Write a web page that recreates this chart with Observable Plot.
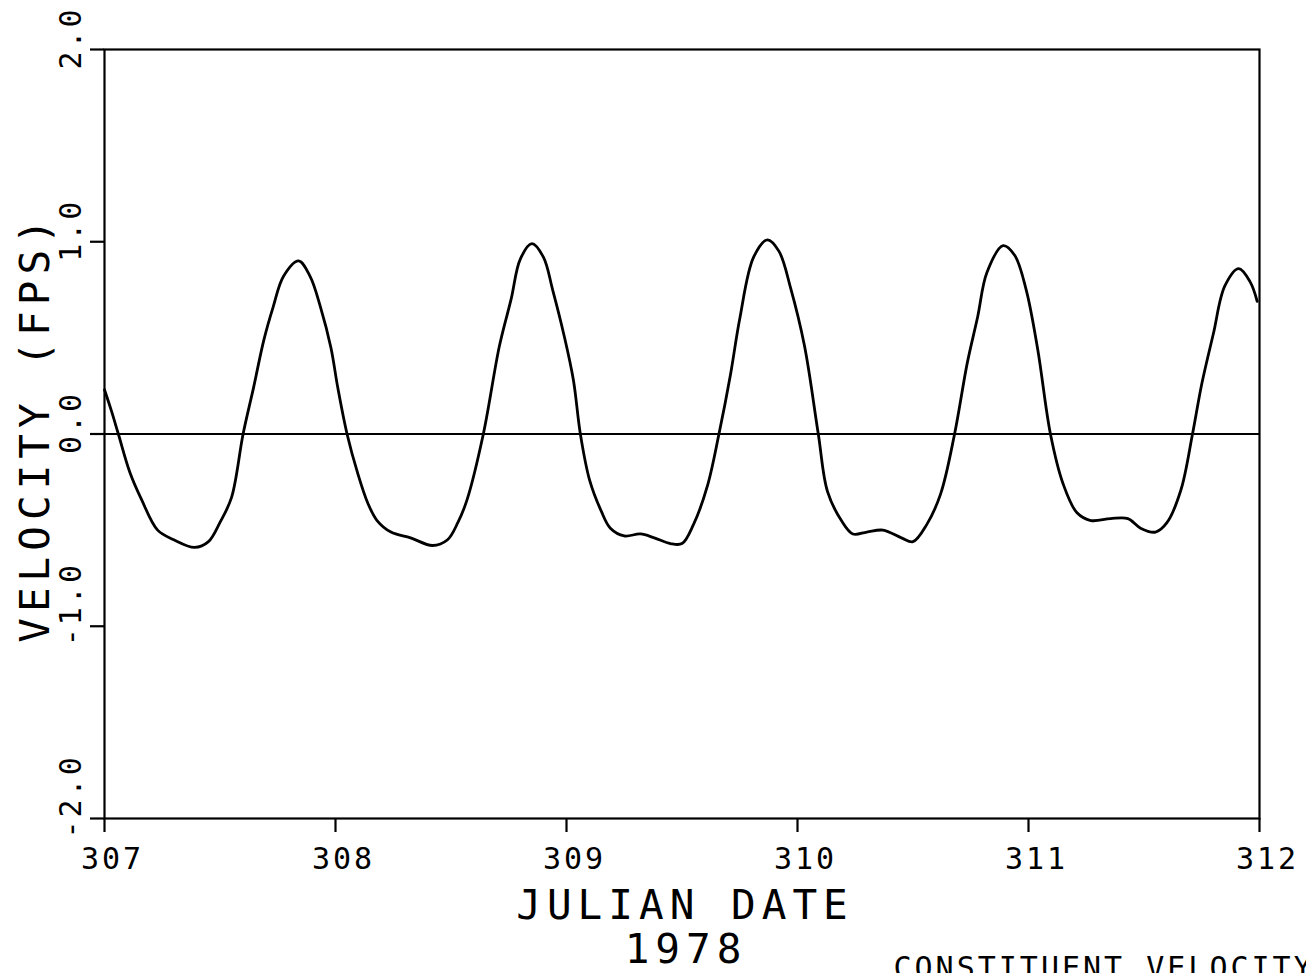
<!DOCTYPE html>
<html>
<head>
<meta charset="utf-8">
<script src="https://cdn.jsdelivr.net/npm/d3@7"></script>
<script src="https://cdn.jsdelivr.net/npm/@observablehq/plot@0.6"></script>
<style>
  html, body { margin: 0; padding: 0; background: #fff; overflow: hidden; }
  #chart { width: 1306px; height: 973px; overflow: hidden; }
</style>
</head>
<body>
<div id="chart"></div>
<script>
// Julian date (1978) and constituent velocity (ft/s)
const days = [
  307.00, 307.03, 307.06, 307.11, 307.16, 307.23, 307.30, 307.39, 307.45, 307.50,
  307.55, 307.60, 307.645, 307.69, 307.73, 307.775, 307.84, 307.89, 307.935, 307.98,
  308.01, 308.05, 308.095, 308.14, 308.18, 308.24, 308.325, 308.42, 308.485, 308.53,
  308.57, 308.64, 308.71, 308.76, 308.80, 308.85, 308.90, 308.94, 308.99, 309.03,
  309.06, 309.10, 309.15, 309.19, 309.25, 309.32, 309.38, 309.45, 309.50, 309.55,
  309.61, 309.66, 309.71, 309.75, 309.81, 309.87, 309.92, 309.97, 310.03, 310.09,
  310.13, 310.19, 310.24, 310.30, 310.37, 310.45, 310.50, 310.56, 310.62, 310.68,
  310.735, 310.78, 310.82, 310.89, 310.94, 310.99, 311.04, 311.095, 311.15, 311.21,
  311.27, 311.355, 311.43, 311.485, 311.55, 311.60, 311.66, 311.71, 311.75, 311.80,
  311.85, 311.91, 311.96, 311.99
];
const velocity = [
  0.23, 0.12, 0.00, -0.20, -0.34, -0.50, -0.55, -0.59, -0.56, -0.46,
  -0.33, 0.00, 0.24, 0.49, 0.66, 0.82, 0.90, 0.82, 0.66, 0.45,
  0.24, 0.00, -0.20, -0.36, -0.45, -0.51, -0.54, -0.58, -0.55, -0.46,
  -0.34, 0.00, 0.46, 0.70, 0.91, 0.99, 0.92, 0.75, 0.51, 0.28,
  0.00, -0.24, -0.40, -0.49, -0.53, -0.52, -0.54, -0.57, -0.57, -0.47,
  -0.27, 0.00, 0.31, 0.60, 0.92, 1.01, 0.95, 0.76, 0.46, 0.00,
  -0.30, -0.45, -0.52, -0.51, -0.50, -0.54, -0.56, -0.47, -0.31, 0.00,
  0.37, 0.61, 0.84, 0.98, 0.93, 0.75, 0.44, 0.00, -0.26, -0.41,
  -0.45, -0.44, -0.44, -0.49, -0.51, -0.46, -0.29, 0.00, 0.26, 0.52,
  0.77, 0.86, 0.79, 0.69
];
const xTicks = [307, 308, 309, 310, 311, 312];
const yTicks = [-2, -1, 0, 1, 2];
const yTickLabels = ["-2.0", "-1.0", "0.0", "1.0", "2.0"];
const xTitle = "JULIAN DATE";
const yearLabel = "1978";
const yTitle = "VELOCITY (FPS)";
const caption = "CONSTITUENT VELOCITY";

const series = days.map((d, i) => ({day: d, v: velocity[i]}));
const font = "'DejaVu Sans Mono', 'Liberation Mono', monospace";

const plot = Plot.plot({
  width: 1306,
  height: 973,
  marginLeft: 104,
  marginRight: 47,
  marginTop: 49,
  marginBottom: 155,
  style: {background: "#fff", color: "#000", fontFamily: font},
  x: {domain: [307, 312], axis: null},
  y: {domain: [-2, 2], axis: null},
  marks: [
    Plot.axisX({ticks: xTicks, tickSize: 14, tickFormat: () => "", strokeWidth: 2.2, label: null}),
    Plot.axisY({ticks: yTicks, tickSize: 14, tickFormat: () => "", strokeWidth: 2.2, label: null}),
    Plot.frame({stroke: "#000", strokeWidth: 2.2}),
    Plot.ruleY([0], {stroke: "#000", strokeWidth: 2}),
    Plot.line(series, {x: "day", y: "v", stroke: "#000", strokeWidth: 2.8, curve: "catmull-rom"}),
    // x tick labels
    Plot.text(xTicks, {x: d => d, frameAnchor: "bottom", text: d => String(d),
      lineAnchor: "bottom", dy: 50, dx: 8, fontSize: 30, fill: "#000"}),
    // y tick labels (rotated)
    Plot.text(yTicks, {y: d => d, frameAnchor: "left", text: (d, i) => yTickLabels[i],
      rotate: -90, textAnchor: "start", lineAnchor: "bottom", dx: -24, dy: 20, fontSize: 30, fill: "#000"}),
    // axis titles
    Plot.text([xTitle], {frameAnchor: "bottom", text: d => d, lineAnchor: "bottom",
      dy: 100, dx: 3, fontSize: 41, fill: "#000"}),
    Plot.text([yearLabel], {frameAnchor: "bottom", text: d => d, lineAnchor: "bottom",
      dy: 144, dx: 4, fontSize: 41, fill: "#000"}),
    Plot.text([yTitle], {frameAnchor: "left", text: d => d, rotate: -90, lineAnchor: "bottom",
      textAnchor: "middle", dx: -56, dy: -6, fontSize: 41, fill: "#000"}),
    Plot.text([caption], {frameAnchor: "bottom-left", text: d => d, lineAnchor: "bottom",
      textAnchor: "start", dx: 789, dy: 159, fontSize: 30, fill: "#000"})
  ]
});

// plotter-style wide character spacing
d3.select(plot).selectAll("text").each(function () {
  const t = this.textContent;
  const el = d3.select(this);
  if (t === xTitle || t === yearLabel || t === yTitle) el.style("letter-spacing", "6px");
  else if (t.length) el.style("letter-spacing", "3px");
});

document.getElementById("chart").appendChild(plot);
</script>
</body>
</html>
